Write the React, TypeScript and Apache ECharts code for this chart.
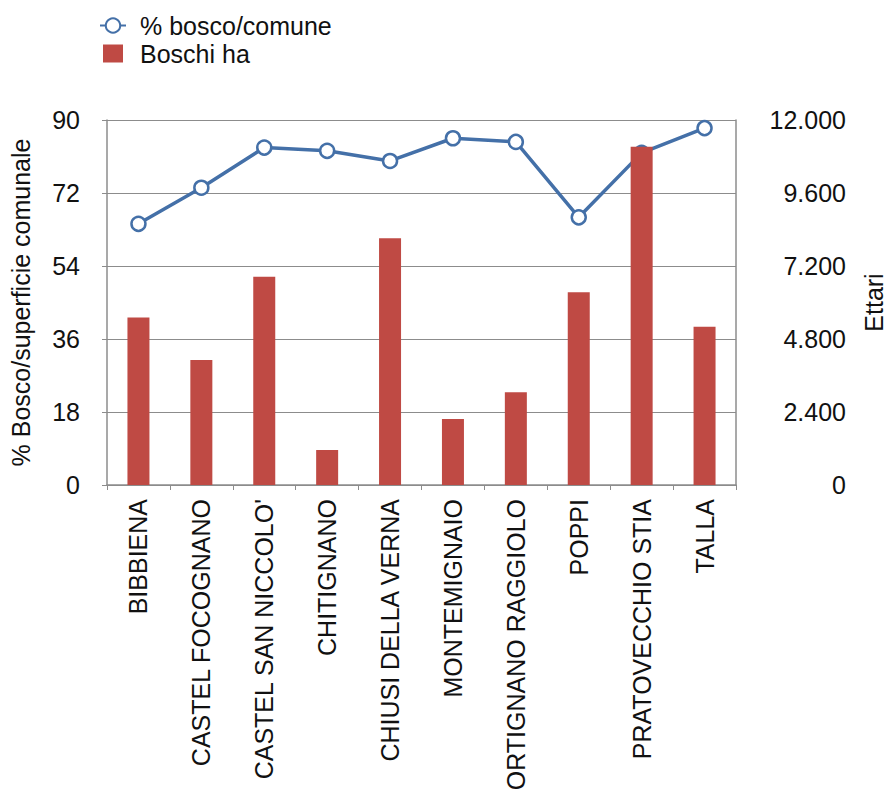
import React, { useEffect, useRef } from "react";
import * as echarts from "echarts";

const categories = [
  "BIBBIENA",
  "CASTEL FOCOGNANO",
  "CASTEL SAN NICCOLO'",
  "CHITIGNANO",
  "CHIUSI DELLA VERNA",
  "MONTEMIGNAIO",
  "ORTIGNANO RAGGIOLO",
  "POPPI",
  "PRATOVECCHIO STIA",
  "TALLA",
];
const percentBosco = [64.4, 73.3, 83.2, 82.4, 79.9, 85.5, 84.6, 66.0, 81.9, 88.0];
const boschiHa = [5510, 4110, 6850, 1150, 8110, 2170, 3050, 6340, 11120, 5200];

const FONT = "'Liberation Sans', Arial, sans-serif";
const GRID = "#8c8c8c";
const FS = 25;

export default function App() {
  const ref = useRef<HTMLDivElement>(null);
  useEffect(() => {
    document.body.style.margin = "0";
    const chart = echarts.init(ref.current!, null, { renderer: "svg" });
    chart.setOption({
      animation: false,
      backgroundColor: "#ffffff",
      textStyle: { fontFamily: FONT },
      legend: {
        orient: "vertical",
        left: 94,
        top: 8,
        itemGap: 3,
        itemWidth: 26,
        itemHeight: 18,
        textStyle: { fontSize: FS, color: "#111", fontFamily: FONT, padding: [0, 0, 0, 9] },
        data: [
          { name: "% bosco/comune" },
          { name: "Boschi ha", icon: "path://M0,0H20V18H0Z" },
        ],
      },
      grid: {
        left: 107,
        right: 156,
        top: 120,
        bottom: 305,
        containLabel: false,
        outerBoundsMode: "none",
      },
      xAxis: {
        type: "category",
        data: categories,
        boundaryGap: true,
        axisLine: { lineStyle: { color: GRID, width: 1.5 } },
        axisTick: { show: true, length: 5, lineStyle: { color: GRID } },
        axisLabel: {
          rotate: 90,
          interval: 0,
          margin: 14,
          fontSize: FS,
          color: "#111",
          fontFamily: FONT,
        },
      },
      yAxis: [
        {
          type: "value",
          min: 0,
          max: 90,
          interval: 18,
          name: "% Bosco/superficie comunale",
          nameLocation: "middle",
          nameGap: 74,
          nameTextStyle: { fontSize: FS, color: "#111", fontFamily: FONT },
          axisLine: { show: true, lineStyle: { color: GRID, width: 1.5 } },
          axisTick: { show: true, length: 5, lineStyle: { color: GRID } },
          axisLabel: { fontSize: FS, color: "#111", margin: 27, fontFamily: FONT },
          splitLine: { show: true, lineStyle: { color: GRID, width: 1.2 } },
        },
        {
          type: "value",
          min: 0,
          max: 12000,
          interval: 2400,
          name: "Ettari",
          nameLocation: "middle",
          nameGap: 125,
          nameTextStyle: { fontSize: FS, color: "#111", fontFamily: FONT },
          axisLine: { show: true, lineStyle: { color: GRID, width: 1.5 } },
          axisTick: { show: false },
          axisLabel: {
            fontSize: FS,
            color: "#111",
            align: "right",
            margin: 110,
            fontFamily: FONT,
            formatter: (v: number) =>
              String(v).replace(/\B(?=(\d{3})+(?!\d))/g, "."),
          },
          splitLine: { show: false },
        },
      ],
      series: [
        {
          name: "% bosco/comune",
          type: "line",
          yAxisIndex: 0,
          data: percentBosco,
          z: 2,
          symbol: "circle",
          symbolSize: 14,
          lineStyle: { color: "#4470a8", width: 3.5 },
          itemStyle: { color: "#ffffff", borderColor: "#4470a8", borderWidth: 2.5 },
        },
        {
          name: "Boschi ha",
          type: "bar",
          yAxisIndex: 1,
          data: boschiHa,
          z: 3,
          barWidth: 22,
          itemStyle: { color: "#bf4a44" },
        },
      ],
    });
    return () => chart.dispose();
  }, []);
  return <div ref={ref} style={{ width: 892, height: 790 }} />;
}
